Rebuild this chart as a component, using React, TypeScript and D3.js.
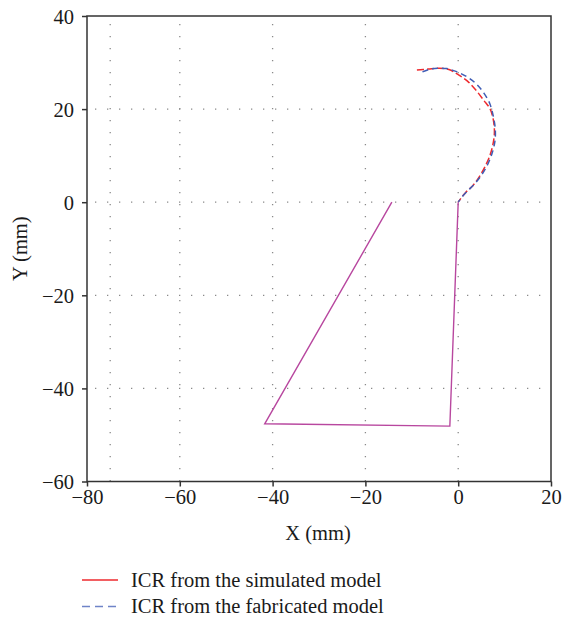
import { useRef, useEffect } from "react";
import * as d3 from "d3";

// ICR arc, simulated model (mm)
const simulatedX = [-8.9, -6.5, -4.1, -2, 0, 2, 3.8, 5.5, 6.9, 7.6, 7.8, 7.4, 6.7, 5.7, 4.5, 3.2, 1.7, 0.7, 0];
const simulatedY = [28.4, 28.6, 28.8, 28.5, 27.4, 26, 24.1, 21.9, 20, 17.5, 14.8, 12, 9.7, 7.5, 5.4, 3.6, 2.2, 1, 0];

// ICR arc, fabricated model (mm)
const fabricatedX = [-7.7, -6, -4.4, -2.5, -0.5, 1.8, 3.8, 5.5, 6.8, 7.6, 8, 7.9, 7.3, 6.3, 5, 3.6, 2, 0.8, 0];
const fabricatedY = [28, 28.6, 28.8, 28.7, 28.1, 27, 25.5, 23.5, 21.2, 18.3, 15.5, 13, 10.5, 8, 5.8, 4, 2.4, 1.1, 0];

// part where both models overlap
const commonX = [0, -1.8, -41.7, -14.3];
const commonY = [0, -48.1, -47.6, 0];

const xTicks = [-80, -60, -40, -20, 0, 20];
const yTicks = [-60, -40, -20, 0, 20, 40];
const xGrid = [-75, -60, -40, -20, 0];
const yGrid = [-40, -20, 0, 20];

const legendLabels = ["ICR from the simulated model", "ICR from the fabricated model"];

export default function App() {
  const ref = useRef<SVGSVGElement>(null);

  useEffect(() => {
    const w = 562, h = 618;
    const left = 87, right = 551, top = 16, bottom = 481.5;
    const font = "'Liberation Serif', 'DejaVu Serif', serif";
    const fs = 20.5;
    const minus = (d: d3.NumberValue) => String(d).replace("-", "\u2212");

    const svg = d3.select(ref.current);
    svg.selectAll("*").remove();
    svg.attr("width", w).attr("height", h);

    const x = d3.scaleLinear().domain([-80, 20]).range([left, right]);
    const y = d3.scaleLinear().domain([-60, 40]).range([bottom, top]);

    // dotted grid
    const grid = svg.append("g").attr("stroke", "#8a8a8a").attr("stroke-width", 1.3).attr("stroke-dasharray", "1.3 10.7");
    xGrid.forEach((v) => {
      grid.append("line")
        .attr("x1", x(v)).attr("x2", x(v))
        .attr("y1", top + 8).attr("y2", bottom);
    });
    yGrid.forEach((v) => {
      grid.append("line")
        .attr("x1", left + 8).attr("x2", right)
        .attr("y1", y(v)).attr("y2", y(v));
    });

    // frame
    svg.append("rect")
      .attr("x", left).attr("y", top)
      .attr("width", right - left).attr("height", bottom - top)
      .attr("fill", "none").attr("stroke", "#333").attr("stroke-width", 1.5);

    const xAxis = svg.append("g")
      .attr("transform", `translate(0,${bottom})`)
      .call(d3.axisBottom(x).tickValues(xTicks).tickSize(5).tickFormat(minus));
    const yAxis = svg.append("g")
      .attr("transform", `translate(${left},0)`)
      .call(d3.axisLeft(y).tickValues(yTicks).tickSize(5).tickFormat(minus));
    [xAxis, yAxis].forEach((a) => {
      a.select(".domain").remove();
      a.selectAll("line").attr("stroke", "#333").attr("stroke-width", 1.5);
      a.selectAll("text").attr("font-family", font).attr("font-size", fs).attr("fill", "#1a1a1a");
    });
    xAxis.selectAll("text").attr("y", 3).attr("dy", "0.95em");
    yAxis.selectAll("text").attr("x", -13).attr("dy", "0.35em");

    svg.append("text")
      .attr("x", (left + right) / 2 - 1).attr("y", 540)
      .attr("text-anchor", "middle")
      .attr("font-family", font).attr("font-size", fs).attr("fill", "#1a1a1a")
      .text("X (mm)");
    svg.append("text")
      .attr("transform", `translate(27,${(top + bottom) / 2}) rotate(-90)`)
      .attr("text-anchor", "middle")
      .attr("font-family", font).attr("font-size", fs).attr("fill", "#1a1a1a")
      .text("Y (mm)");

    const path = (xs: number[], ys: number[]) =>
      d3.line<number>().x((_, i) => x(xs[i])).y((_, i) => y(ys[i])).curve(d3.curveCatmullRom)(xs);

    svg.append("path")
      .attr("d", d3.line<number>().x((_, i) => x(commonX[i])).y((_, i) => y(commonY[i]))(commonX))
      .attr("fill", "none").attr("stroke", "#b8479f").attr("stroke-width", 1.4);

    svg.append("path")
      .attr("d", path(simulatedX, simulatedY))
      .attr("fill", "none").attr("stroke", "#ee2a2e").attr("stroke-width", 1.5)
      .attr("stroke-dasharray", "7 3");
    svg.append("path")
      .attr("d", path(fabricatedX, fabricatedY))
      .attr("fill", "none").attr("stroke", "#3f5db5").attr("stroke-width", 1.5)
      .attr("stroke-dasharray", "6 4");

    // legend
    const legend = svg.append("g");
    const ly = [580, 606.5];
    legend.append("line")
      .attr("x1", 82).attr("x2", 118).attr("y1", ly[0]).attr("y2", ly[0])
      .attr("stroke", "#ee2a2e").attr("stroke-width", 1.5);
    legend.append("line")
      .attr("x1", 82).attr("x2", 118).attr("y1", ly[1]).attr("y2", ly[1])
      .attr("stroke", "#6f84c8").attr("stroke-width", 1.5).attr("stroke-dasharray", "8 5");
    legendLabels.forEach((t, i) => {
      legend.append("text")
        .attr("x", 131).attr("y", ly[i]).attr("dy", "0.33em")
        .attr("font-family", font).attr("font-size", fs).attr("fill", "#1a1a1a")
        .text(t);
    });
  }, []);

  return <svg ref={ref} style={{ position: "absolute", left: 0, top: 0 }}></svg>;
}
